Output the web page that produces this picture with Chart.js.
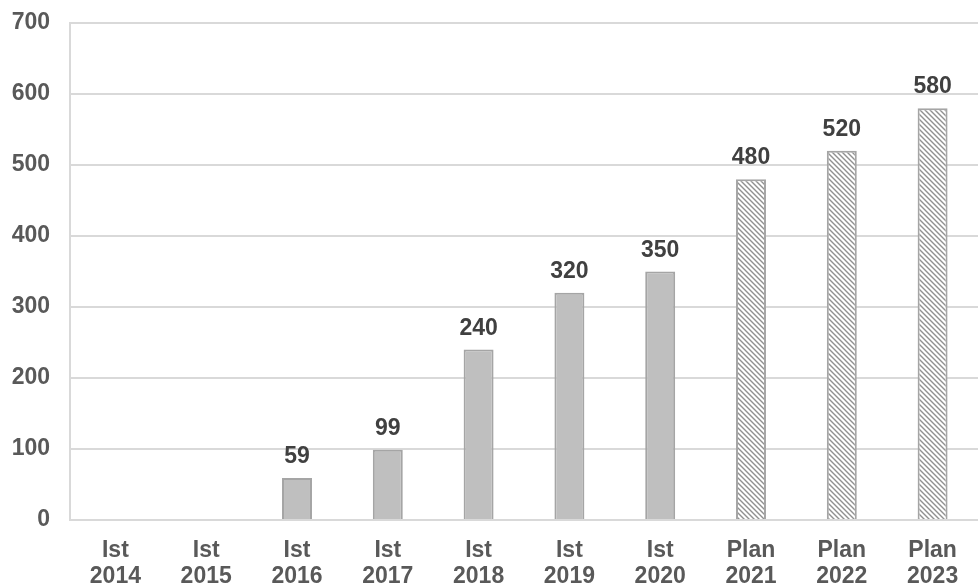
<!DOCTYPE html>
<html>
<head>
<meta charset="utf-8">
<script src="https://cdn.jsdelivr.net/npm/chart.js@4/dist/chart.umd.min.js"></script>
<style>
  body { margin: 0; background: #fff; }
  #wrap { width: 978px; height: 588px; }
</style>
</head>
<body>
<div id="wrap"><canvas id="myChart"></canvas></div>
<script>
var kinds = ['Ist', 'Ist', 'Ist', 'Ist', 'Ist', 'Ist', 'Ist', 'Plan', 'Plan', 'Plan'];
var years = ['2014', '2015', '2016', '2017', '2018', '2019', '2020', '2021', '2022', '2023'];
var values = [null, null, 59, 99, 240, 320, 350, 480, 520, 580];
var yTicks = [0, 100, 200, 300, 400, 500, 600, 700];

var labels = kinds.map(function (k, i) { return [k, years[i]]; });
var FONT = '"Liberation Sans", Arial, sans-serif';

// hatch pattern for the plan years
function hatch() {
    var c = document.createElement('canvas');
    c.width = 5; c.height = 5;
    var g = c.getContext('2d');
    g.fillStyle = '#ffffff';
    g.fillRect(0, 0, 5, 5);
    g.strokeStyle = '#909090';
    g.lineWidth = 1.4;
    g.beginPath();
    g.moveTo(-1, -1); g.lineTo(6, 6);
    g.moveTo(-1, 4); g.lineTo(1, 6);
    g.moveTo(4, -1); g.lineTo(6, 1);
    g.stroke();
    return g.createPattern(c, 'repeat');
}
var pat = hatch();

var fills = kinds.map(function (k) { return k == 'Plan' ? pat : '#bfbfbf'; });

var valueLabels = {
    id: 'valueLabels',
    afterDatasetsDraw: function (chart) {
        var ctx = chart.ctx;
        var meta = chart.getDatasetMeta(0);
        ctx.save();
        ctx.font = 'bold 23px ' + FONT;
        ctx.fillStyle = '#404040';
        ctx.textAlign = 'center';
        ctx.textBaseline = 'alphabetic';
        meta.data.forEach(function (bar, i) {
            if (values[i] == null) return;
            ctx.fillText(values[i], bar.x, bar.y - 15);
        });
        ctx.restore();
    }
};

var ctx = document.getElementById('myChart');
var myChart = new Chart(ctx, {
    type: 'bar',
    data: {
        labels: labels,
        datasets: [{
            data: values,
            backgroundColor: fills,
            borderColor: '#a5a5a5',
            borderWidth: 2,
            barPercentage: 0.33,
            categoryPercentage: 1
        }]
    },
    options: {
        responsive: true,
        maintainAspectRatio: false,
        animation: false,
        layout: { padding: { top: 23, right: 0, bottom: 0, left: 10 } },
        plugins: {
            legend: { display: false },
            tooltip: { enabled: false }
        },
        scales: {
            x: {
                afterFit: function (axis) { axis.height = 68; },
                grid: { display: false },
                border: { color: '#d9d9d9', width: 2 },
                ticks: {
                    color: '#595959',
                    font: { family: FONT, size: 23, weight: 'bold', lineHeight: 1.12 },
                    maxRotation: 0,
                    padding: 10
                }
            },
            y: {
                min: 0,
                max: 700,
                afterFit: function (axis) {
                    axis.width = 60;
                    axis.paddingTop = 0;
                },
                afterBuildTicks: function (axis) {
                    axis.ticks = yTicks.map(function (v) { return { value: v }; });
                },
                grid: { color: '#d9d9d9', lineWidth: 2, drawTicks: false },
                border: { color: '#d9d9d9', width: 2 },
                ticks: {
                    color: '#595959',
                    font: { family: FONT, size: 23, weight: 'bold' },
                    padding: 20
                }
            }
        }
    },
    plugins: [valueLabels]
});
</script>
</body>
</html>
